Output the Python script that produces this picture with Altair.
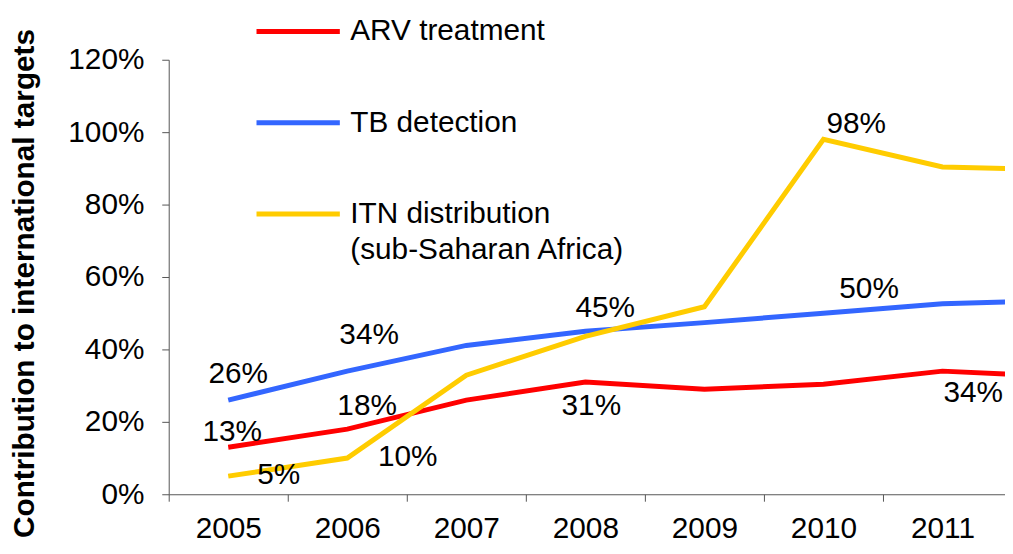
import altair as alt
import pandas as pd

# ---------------- data ----------------
years = [2005, 2006, 2007, 2008, 2009, 2010, 2011, 2012]
series_names = ["ARV treatment", "TB detection", "ITN distribution (sub-Saharan Africa)"]
arv = [0.13, 0.18, 0.26, 0.31, 0.29, 0.304, 0.34, 0.325]
tb = [0.26, 0.34, 0.411, 0.45, 0.474, 0.50, 0.526, 0.535]
itn = [0.05, 0.10, 0.329, 0.436, 0.518, 0.98, 0.904, 0.896]
colors = ["#FF0000", "#3366FF", "#FFCC00"]
y_ticks = [0, 0.2, 0.4, 0.6, 0.8, 1.0, 1.2]

rows = []
for name, vals in zip(series_names, [arv, tb, itn]):
    for yr, v in zip(years, vals):
        rows.append({"series": name, "year": yr, "value": v})
df = pd.DataFrame(rows)

# ---------------- style ----------------
FONT = "Liberation Sans"
FS = 30
# which points get a value label, and where the label sits relative to the point
placements = [
    ("ARV treatment", 2005, 4, -15),
    ("TB detection", 2005, 10, -26),
    ("ITN distribution (sub-Saharan Africa)", 2005, 51, -1),
    ("ARV treatment", 2006, 20, -23),
    ("TB detection", 2006, 22, -36),
    ("ITN distribution (sub-Saharan Africa)", 2006, 61, -1),
    ("TB detection", 2008, 20, -23),
    ("ARV treatment", 2008, 6, 24),
    ("TB detection", 2010, 46, -24),
    ("ITN distribution (sub-Saharan Africa)", 2010, 33, -15),
    ("ARV treatment", 2011, 31, 22),
]

base = alt.Chart(df)

x_enc = alt.X(
    "year:Q",
    scale=alt.Scale(domain=[2004.5, 2011.525], nice=False, zero=False),
    axis=alt.Axis(
        values=years,
        format="d",
        labelExpr="datum.value > 2011 ? '' : datum.label",
        tickOffset=-60,
        labelOffset=60,
        labelFlush=False,
        labelOverlap=False,
        grid=False,
        title=None,
        tickSize=7,
        labelPadding=13,
        labelFontSize=FS,
        labelColor="black",
        domainColor="#555555",
        tickColor="#555555",
    ),
)
y_enc = alt.Y(
    "value:Q",
    scale=alt.Scale(domain=[0, 1.2], nice=False),
    axis=alt.Axis(
        values=y_ticks,
        format=".0%",
        grid=False,
        tickSize=7,
        labelPadding=18,
        labelFontSize=FS,
        labelColor="black",
        domainColor="#555555",
        tickColor="#555555",
        title="Contribution to international targets",
        titleFontSize=30,
        titleFontWeight="bold",
        titleColor="black",
        titleAngle=270,
        titleX=-136,
        titleY=225,
        titleBaseline="alphabetic",
        titleAlign="center",
    ),
)

lines = base.mark_line(strokeWidth=5, clip=True).encode(
    x=x_enc,
    y=y_enc,
    color=alt.Color(
        "series:N",
        scale=alt.Scale(domain=series_names, range=colors),
        sort=series_names,
        legend=alt.Legend(
            title=None,
            orient="none",
            legendX=86,
            legendY=-73,
            direction="vertical",
            symbolType="stroke",
            symbolSize=7056,
            symbolStrokeWidth=5,
            labelFontSize=FS,
            labelColor="black",
            labelOffset=8,
            labelLimit=500,
            rowPadding=32,
            padding=0,
            labelExpr="datum.label == 'ITN distribution (sub-Saharan Africa)' ? ['ITN distribution', '(sub-Saharan Africa)'] : datum.label",
        ),
    ),
)

texts = []
for s, yr, dx, dy in placements:
    texts.append(
        base.transform_filter((alt.datum.series == s) & (alt.datum.year == yr))
        .mark_text(dx=dx, dy=dy, fontSize=FS, color="black", align="center", baseline="middle")
        .encode(x="year:Q", y="value:Q", text=alt.Text("value:Q", format=".0%"))
    )

chart = (
    alt.layer(lines, *texts)
    .properties(
        width=843,
        height=438,
        autosize=alt.AutoSizeParams(type="none"),
        padding={"left": 162, "top": 50, "right": 0, "bottom": 50},
    )
    .configure(font=FONT, style={"guide-label": {"lineHeight": 36}})
    .configure_view(stroke=None)
)

chart.save("out.html", embed_options={"renderer": "svg", "actions": False})
